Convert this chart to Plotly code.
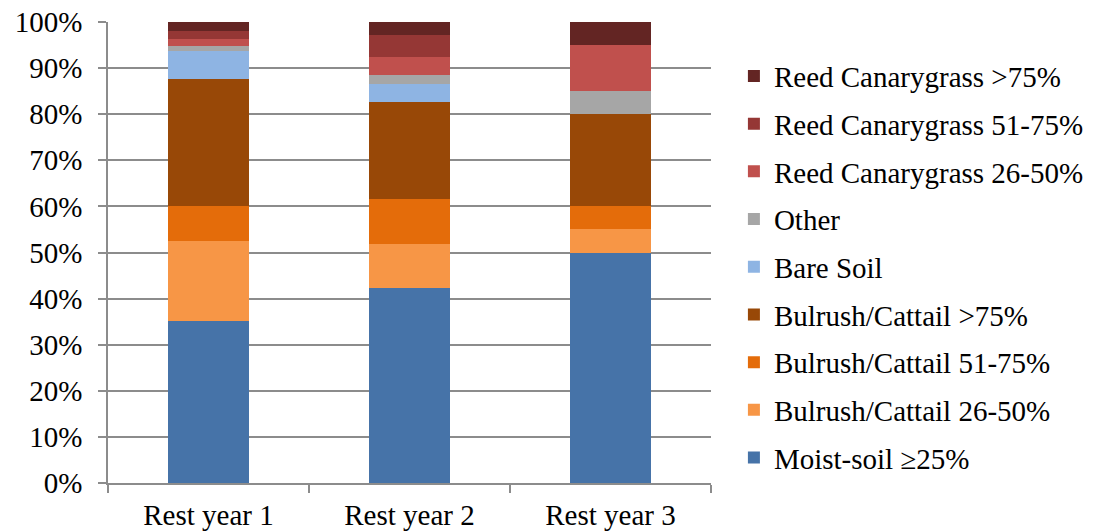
import plotly.graph_objects as go

# Percent cover of each vegetation class by rest year (stacked to 100%)
years = ["Rest year 1", "Rest year 2", "Rest year 3"]

moist_soil = [35.2, 42.2, 50.0]
bulrush_26_50 = [17.4, 9.7, 5.0]
bulrush_51_75 = [7.4, 9.6, 5.0]
bulrush_gt75 = [27.6, 21.2, 20.0]
bare_soil = [6.2, 3.9, 0.0]
other = [1.0, 1.9, 5.0]
reed_26_50 = [1.6, 3.9, 10.0]
reed_51_75 = [1.6, 4.8, 0.0]
reed_gt75 = [2.0, 2.8, 5.0]

y_ticks = [0, 10, 20, 30, 40, 50, 60, 70, 80, 90, 100]
y_tick_labels = [f"{v}%" for v in y_ticks]

series = [
    ("Moist-soil \u226525%", moist_soil, "#4673A8"),
    ("Bulrush/Cattail 26-50%", bulrush_26_50, "#F79646"),
    ("Bulrush/Cattail 51-75%", bulrush_51_75, "#E46C0A"),
    ("Bulrush/Cattail >75%", bulrush_gt75, "#984807"),
    ("Bare Soil", bare_soil, "#8EB4E3"),
    ("Other", other, "#A6A6A6"),
    ("Reed Canarygrass 26-50%", reed_26_50, "#C0504D"),
    ("Reed Canarygrass 51-75%", reed_51_75, "#953735"),
    ("Reed Canarygrass >75%", reed_gt75, "#632523"),
]

font_family = "Liberation Serif, Times New Roman, serif"
font_size = 29

fig = go.Figure()
n = len(series)
for i, (name, values, color) in enumerate(series):
    fig.add_trace(go.Bar(
        x=years,
        y=values,
        name=name,
        legendgroup=name,
        legendrank=n - i,  # top of the stack listed first
        marker=dict(color=color, line=dict(width=0)),
    ))

fig.update_layout(
    width=1106,
    height=531,
    barmode="stack",
    bargap=0.6,
    plot_bgcolor="white",
    paper_bgcolor="white",
    margin=dict(l=108, r=395, t=22, b=48, autoexpand=False),
    font=dict(family=font_family, size=font_size, color="black"),
    legend=dict(
        traceorder="grouped",
        tracegroupgap=7,
        x=1.038,
        xanchor="left",
        y=0.938,
        yanchor="top",
        font=dict(family=font_family, size=font_size, color="black"),
        itemwidth=30,
        bgcolor="rgba(0,0,0,0)",
    ),
    showlegend=True,
)

fig.update_yaxes(
    range=[0, 100],
    tickvals=y_ticks,
    ticktext=y_tick_labels,
    automargin=False,
    showgrid=True,
    gridcolor="#8C8C8C",
    gridwidth=1.5,
    showline=True,
    linecolor="#8C8C8C",
    linewidth=1.5,
    ticks="outside",
    ticklen=8,
    tickcolor="#8C8C8C",
    tickwidth=1.5,
    ticklabelstandoff=10,
    zeroline=False,
    tickfont=dict(family=font_family, size=font_size, color="black"),
)

fig.update_xaxes(
    automargin=False,
    showline=True,
    linecolor="#8C8C8C",
    linewidth=1.5,
    ticks="outside",
    tickson="boundaries",
    ticklen=8,
    tickcolor="#8C8C8C",
    tickwidth=1.5,
    ticklabelstandoff=5,
    showgrid=False,
    tickfont=dict(family=font_family, size=font_size, color="black"),
)

fig.write_html("out.html")
